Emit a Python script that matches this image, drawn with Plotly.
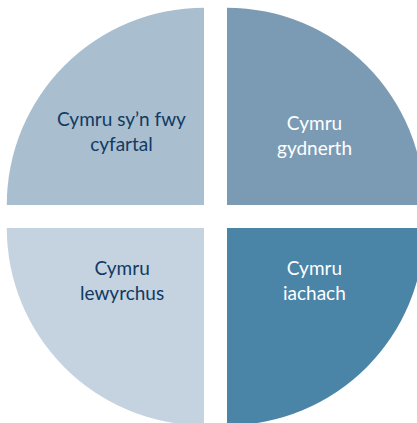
import plotly.graph_objects as go

# Data
categories = ["Cymru<br>gydnerth", "Cymru<br>iachach", "Cymru<br>lewyrchus", "Cymru sy’n fwy<br>cyfartal"]
values = [1, 1, 1, 1]

# Styles
slice_colors = ["#7B9BB4", "#4A84A7", "#C5D3E0", "#A9BECF"]
text_colors = ["#FFFFFF", "#FFFFFF", "#113A63", "#113A63"]
label_pos = [(0.7319, 0.6909), (0.7319, 0.3513), (0.2799, 0.3513), (0.2799, 0.7002)]
pull = 0.0825

fig = go.Figure()
fig.add_trace(go.Pie(
    labels=categories,
    values=values,
    sort=False,
    direction="clockwise",
    rotation=0,
    pull=[pull] * len(values),
    marker=dict(colors=slice_colors, line=dict(width=0)),
    textinfo="none",
    hoverinfo="label",
    showlegend=False,
))

for lab, col, (px, py) in zip(categories, text_colors, label_pos):
    fig.add_annotation(
        x=px, y=py, xref="paper", yref="paper",
        text=lab, showarrow=False,
        xanchor="center", yanchor="middle", align="center",
        font=dict(family="Lato", size=19, color=col),
    )

fig.update_layout(
    width=432, height=432,
    margin=dict(l=2, t=3, r=3, b=2, pad=0),
    paper_bgcolor="white",
    plot_bgcolor="white",
)

fig.write_html(
    "out.html",
    config={"displayModeBar": False},
    post_script="document.body.style.margin='0';document.body.style.overflow='hidden';document.documentElement.style.overflow='hidden';",
)
